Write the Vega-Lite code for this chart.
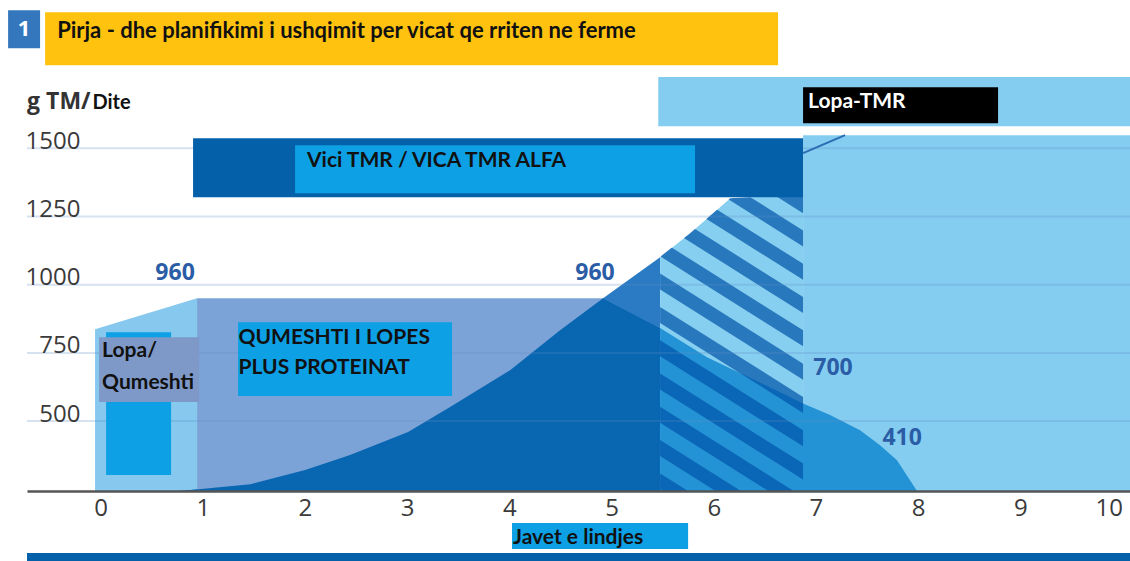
{
  "$schema": "https://vega.github.io/schema/vega-lite/v6.json",
  "width": 1103,
  "height": 416,
  "autosize": {"type": "none"},
  "padding": {"left": 27, "top": 75, "right": 0, "bottom": 70},
  "background": "white",
  "config": {"view": {"stroke": null}},
  "datasets": {
    "backgrounds": [
      {"part": "Lopa-TMR area", "week": 6.874, "week2": 10.073, "value": 244, "value2": 1547.6}
    ],
    "areas": [
      {"part": "Lopa/Qumeshti zone", "week": -0.054, "top": 837, "bottom": 244},
      {"part": "Lopa/Qumeshti zone", "week": 0.944, "top": 950.5, "bottom": 244},
      {"part": "Starter", "week": 0.778, "top": 244, "bottom": 244},
      {"part": "Starter", "week": 1.468, "top": 269, "bottom": 244},
      {"part": "Starter", "week": 2.001, "top": 320.5, "bottom": 244},
      {"part": "Starter", "week": 2.441, "top": 375.5, "bottom": 244},
      {"part": "Starter", "week": 3.009, "top": 459.7, "bottom": 244},
      {"part": "Starter", "week": 3.42, "top": 551.3, "bottom": 244},
      {"part": "Starter", "week": 4.007, "top": 686.8, "bottom": 244},
      {"part": "Starter", "week": 4.496, "top": 833.3, "bottom": 244},
      {"part": "Starter", "week": 4.917, "top": 950.5, "bottom": 244},
      {"part": "Starter", "week": 5.475, "top": 1100.7, "bottom": 244},
      {"part": "Starter transition", "week": 5.475, "top": 1100.7, "bottom": 244},
      {"part": "Starter transition", "week": 5.768, "top": 1188.6, "bottom": 244},
      {"part": "Starter transition", "week": 6.16, "top": 1316.8, "bottom": 244},
      {"part": "Starter transition", "week": 6.874, "top": 1330, "bottom": 244},
      {"part": "Milk plus protein", "week": 0.944, "top": 950.5, "bottom": 244},
      {"part": "Milk plus protein", "week": 4.917, "top": 950.5, "bottom": 244},
      {"part": "Milk plus protein", "week": 5.475, "top": 840.7, "bottom": 244},
      {"part": "Milk and starter", "week": 0.778, "top": 244, "bottom": 244},
      {"part": "Milk and starter", "week": 1.468, "top": 269, "bottom": 244},
      {"part": "Milk and starter", "week": 2.001, "top": 320.5, "bottom": 244},
      {"part": "Milk and starter", "week": 2.441, "top": 375.5, "bottom": 244},
      {"part": "Milk and starter", "week": 3.009, "top": 459.7, "bottom": 244},
      {"part": "Milk and starter", "week": 3.42, "top": 551.3, "bottom": 244},
      {"part": "Milk and starter", "week": 4.007, "top": 686.8, "bottom": 244},
      {"part": "Milk and starter", "week": 4.496, "top": 833.3, "bottom": 244},
      {"part": "Milk and starter", "week": 4.917, "top": 950.5, "bottom": 244},
      {"part": "Milk and starter", "week": 5.475, "top": 840.7, "bottom": 244},
      {"part": "Milk weaning", "week": 5.475, "top": 840.7, "bottom": 244},
      {"part": "Milk weaning", "week": 5.934, "top": 734.4, "bottom": 244},
      {"part": "Milk weaning", "week": 6.874, "top": 565, "bottom": 244},
      {"part": "Milk weaning", "week": 7.138, "top": 522, "bottom": 244},
      {"part": "Milk weaning", "week": 7.432, "top": 467, "bottom": 244},
      {"part": "Milk weaning", "week": 7.627, "top": 412, "bottom": 244},
      {"part": "Milk weaning", "week": 7.793, "top": 357, "bottom": 244},
      {"part": "Milk weaning", "week": 7.989, "top": 244, "bottom": 244},
      {"part": "Above starter", "week": 5.47, "top": 1600, "bottom": 1100.7},
      {"part": "Above starter", "week": 5.768, "top": 1600, "bottom": 1188.6},
      {"part": "Above starter", "week": 6.16, "top": 1600, "bottom": 1316.8},
      {"part": "Above starter", "week": 6.874, "top": 1600, "bottom": 1330}
    ],
    "hatch": [
      {"stripe": 0, "week": 5.475, "top": 1650.5, "bottom": 1591.9},
      {"stripe": 0, "week": 6.874, "top": 1320.5, "bottom": 1261.9},
      {"stripe": 1, "week": 5.475, "top": 1528.5, "bottom": 1469.9},
      {"stripe": 1, "week": 6.874, "top": 1198.5, "bottom": 1139.9},
      {"stripe": 2, "week": 5.475, "top": 1406.5, "bottom": 1347.9},
      {"stripe": 2, "week": 6.874, "top": 1076.5, "bottom": 1017.9},
      {"stripe": 3, "week": 5.475, "top": 1284.5, "bottom": 1225.9},
      {"stripe": 3, "week": 6.874, "top": 954.5, "bottom": 895.9},
      {"stripe": 4, "week": 5.475, "top": 1162.5, "bottom": 1103.9},
      {"stripe": 4, "week": 6.874, "top": 832.5, "bottom": 773.9},
      {"stripe": 5, "week": 5.475, "top": 1040.5, "bottom": 981.9},
      {"stripe": 5, "week": 6.874, "top": 710.5, "bottom": 651.9},
      {"stripe": 6, "week": 5.475, "top": 918.5, "bottom": 859.9},
      {"stripe": 6, "week": 6.874, "top": 588.5, "bottom": 529.9},
      {"stripe": 7, "week": 5.475, "top": 796.5, "bottom": 737.9},
      {"stripe": 7, "week": 6.874, "top": 466.5, "bottom": 407.9},
      {"stripe": 8, "week": 5.475, "top": 674.5, "bottom": 615.9},
      {"stripe": 8, "week": 6.874, "top": 344.5, "bottom": 285.9},
      {"stripe": 9, "week": 5.475, "top": 552.5, "bottom": 493.9},
      {"stripe": 9, "week": 6.874, "top": 222.5, "bottom": 163.9},
      {"stripe": 10, "week": 5.475, "top": 430.5, "bottom": 371.9},
      {"stripe": 10, "week": 6.874, "top": 100.5, "bottom": 41.9},
      {"stripe": 11, "week": 5.475, "top": 308.5, "bottom": 249.9},
      {"stripe": 11, "week": 6.874, "top": -21.5, "bottom": -80.1},
      {"stripe": 12, "week": 5.475, "top": 186.5, "bottom": 127.9},
      {"stripe": 12, "week": 6.874, "top": -143.5, "bottom": -202.1}
    ],
    "grid": [{"value": 500}, {"value": 750}, {"value": 1000}, {"value": 1250}, {"value": 1500}],
    "boxes": [
      {"part": "Lopa/Qumeshti inner", "week": 0.054, "week2": 0.69, "value": 302.2, "value2": 826},
      {"part": "Lopa/Qumeshti label", "week": -0.015, "week2": 0.964, "value": 569.6, "value2": 807.7},
      {"part": "Qumeshti label", "week": 1.345, "week2": 3.439, "value": 591.6, "value2": 862.6},
      {"part": "Lopa-TMR band", "week": 5.457, "week2": 10.073, "value": 1580.6, "value2": 1760.6},
      {"part": "Vici TMR outer", "week": 0.905, "week2": 6.874, "value": 1320.5, "value2": 1536.6},
      {"part": "Vici TMR label", "week": 1.903, "week2": 5.817, "value": 1335.2, "value2": 1511},
      {"part": "Lopa-TMR label", "week": 6.874, "week2": 8.782, "value": 1591.6, "value2": 1723.4},
      {"part": "Javet label", "week": 4.026, "week2": 5.749, "value": 31.1, "value2": 126.4},
      {"part": "Title badge", "week": -0.905, "week2": -0.592, "value": 1866.3, "value2": 2005.5},
      {"part": "Title", "week": -0.543, "week2": 6.629, "value": 1804.1, "value2": 1998.2},
      {"part": "Footer", "week": -0.72, "week2": 10.073, "value": -27, "value2": 16.5}
    ],
    "connector": [{"week": 6.874, "value": 1482, "week2": 7.285, "value2": 1548}],
    "captions": [
      {"text": "Lopa/", "week": 0.015, "value": 756.4},
      {"text": "Qumeshti", "week": 0.015, "value": 639.2},
      {"text": "QUMESHTI I LOPES", "week": 1.35, "value": 804},
      {"text": "PLUS PROTEINAT", "week": 1.35, "value": 694.1},
      {"text": "Vici TMR / VICA TMR ALFA", "week": 2.02, "value": 1452.4},
      {"text": "Javet e lindjes", "week": 4.036, "value": 71.4}
    ],
    "amounts": [
      {"label": "960", "week": 0.729, "value": 1042.1},
      {"label": "960", "week": 4.838, "value": 1042.1},
      {"label": "700", "week": 7.167, "value": 694.1},
      {"label": "410", "week": 7.843, "value": 437.7}
    ],
    "title": [{"text": "Pirja - dhe planifikimi i ushqimit per vicat qe rriten ne ferme", "week": -0.425, "value": 1928.6}],
    "badge": [{"text": "1", "week": -0.749, "value": 1935.9}],
    "tmr": [{"text": "Lopa-TMR", "week": 6.923, "value": 1668.5}],
    "unit": [{"text": "g TM/", "week": -0.719, "value": 1642.9}],
    "unit2": [{"text": "Dite", "week": -0.08, "value": 1642.9}]
  },
  "layer": [
    {
      "data": {"name": "backgrounds"},
      "mark": {"type": "rect"},
      "encoding": {
        "x": {
          "field": "week", "type": "quantitative",
          "scale": {"domain": [-0.72, 10.073], "nice": false, "zero": false},
          "axis": {
            "values": [0, 1, 2, 3, 4, 5, 6, 7, 8, 9, 10], "format": "d", "title": null,
            "grid": false, "ticks": false, "tickSize": 0, "labelPadding": 17,
            "labelBaseline": "middle", "labelFont": "Open Sans", "labelFontSize": 24,
            "labelColor": "#3a3a3a", "domainColor": "#555555", "domainWidth": 2.5,
            "labelFlush": 10, "labelOverlap": false, "labelBound": false, "zindex": 2
          }
        },
        "x2": {"field": "week2"},
        "y": {
          "field": "value", "type": "quantitative",
          "scale": {"domain": [244, 1768], "nice": false, "zero": false},
          "axis": {
            "values": [500, 750, 1000, 1250, 1500], "format": "d", "title": null, "grid": false,
            "ticks": false, "tickSize": 0, "domain": false, "labelAlign": "right",
            "labelBaseline": "alphabetic", "labelPadding": -53, "labelFont": "Open Sans",
            "labelFontSize": 24, "labelColor": "#3a3a3a", "labelBound": false,
            "labelFlush": false, "labelOverlap": false, "zindex": 2
          }
        },
        "y2": {"field": "value2"},
        "color": {"value": "#85CDF0"}
      }
    },
    {
      "data": {"name": "areas"},
      "transform": [{"filter": "datum.part === 'Lopa/Qumeshti zone'"}],
      "mark": {"type": "area", "color": "#86C8EE"},
      "encoding": {
        "x": {"field": "week", "type": "quantitative"},
        "y": {"field": "top", "type": "quantitative", "stack": null},
        "y2": {"field": "bottom"}
      }
    },
    {
      "data": {"name": "areas"},
      "transform": [{"filter": "datum.part === 'Starter'"}],
      "mark": {"type": "area", "color": "#2B7BC4"},
      "encoding": {
        "x": {"field": "week", "type": "quantitative"},
        "y": {"field": "top", "type": "quantitative", "stack": null},
        "y2": {"field": "bottom"}
      }
    },
    {
      "data": {"name": "areas"},
      "transform": [{"filter": "datum.part === 'Starter transition'"}],
      "mark": {"type": "area", "color": "#87CFF0"},
      "encoding": {
        "x": {"field": "week", "type": "quantitative"},
        "y": {"field": "top", "type": "quantitative", "stack": null},
        "y2": {"field": "bottom"}
      }
    },
    {
      "data": {"name": "areas"},
      "transform": [{"filter": "datum.part === 'Milk plus protein'"}],
      "mark": {"type": "area", "color": "#7CA3D7"},
      "encoding": {
        "x": {"field": "week", "type": "quantitative"},
        "y": {"field": "top", "type": "quantitative", "stack": null},
        "y2": {"field": "bottom"}
      }
    },
    {
      "data": {"name": "areas"},
      "transform": [{"filter": "datum.part === 'Milk and starter'"}],
      "mark": {"type": "area", "color": "#0966B1"},
      "encoding": {
        "x": {"field": "week", "type": "quantitative"},
        "y": {"field": "top", "type": "quantitative", "stack": null},
        "y2": {"field": "bottom"}
      }
    },
    {
      "data": {"name": "areas"},
      "transform": [{"filter": "datum.part === 'Milk weaning'"}],
      "mark": {"type": "area", "color": "#2393D6"},
      "encoding": {
        "x": {"field": "week", "type": "quantitative"},
        "y": {"field": "top", "type": "quantitative", "stack": null},
        "y2": {"field": "bottom"}
      }
    },
    {
      "data": {"name": "hatch"},
      "mark": {"type": "area", "color": "#0052A8", "opacity": 0.7, "clip": true},
      "encoding": {
        "x": {"field": "week", "type": "quantitative"},
        "y": {"field": "top", "type": "quantitative", "stack": null},
        "y2": {"field": "bottom"},
        "detail": {"field": "stripe", "type": "nominal"}
      }
    },
    {
      "data": {"name": "areas"},
      "transform": [{"filter": "datum.part === 'Above starter'"}],
      "mark": {"type": "area", "color": "#ffffff"},
      "encoding": {
        "x": {"field": "week", "type": "quantitative"},
        "y": {"field": "top", "type": "quantitative", "stack": null},
        "y2": {"field": "bottom"}
      }
    },
    {
      "data": {"name": "grid"},
      "mark": {"type": "rule", "color": "#5B8CC4", "opacity": 0.25, "strokeWidth": 2},
      "encoding": {
        "y": {"field": "value", "type": "quantitative"}
      }
    },
    {
      "data": {"name": "boxes"},
      "mark": {"type": "rect"},
      "encoding": {
        "x": {"field": "week", "type": "quantitative"},
        "x2": {"field": "week2"},
        "y": {"field": "value", "type": "quantitative"},
        "y2": {"field": "value2"},
        "color": {
          "field": "part", "type": "nominal", "legend": null,
          "scale": {
            "domain": ["Lopa/Qumeshti inner", "Lopa/Qumeshti label", "Qumeshti label", "Lopa-TMR band", "Vici TMR outer", "Vici TMR label", "Lopa-TMR label", "Javet label", "Title badge", "Title", "Footer"],
            "range": ["#0EA0E4", "#7E99C8", "#0EA0E4", "#85CDF0", "#0560AA", "#0EA0E4", "#000000", "#0EA0E4", "#3577BC", "#FFC20E", "#0560AA"]
          }
        }
      }
    },
    {
      "data": {"name": "connector"},
      "mark": {"type": "rule", "color": "#2A6DB5", "strokeWidth": 2},
      "encoding": {
        "x": {"field": "week", "type": "quantitative"},
        "x2": {"field": "week2"},
        "y": {"field": "value", "type": "quantitative"},
        "y2": {"field": "value2"}
      }
    },
    {
      "data": {"name": "captions"},
      "mark": {"type": "text", "align": "left", "baseline": "middle", "font": "Lato", "fontWeight": "bold", "fontSize": 21, "color": "#111111"},
      "encoding": {
        "x": {"field": "week", "type": "quantitative"},
        "y": {"field": "value", "type": "quantitative"},
        "text": {"field": "text"}
      }
    },
    {
      "data": {"name": "amounts"},
      "mark": {"type": "text", "align": "center", "baseline": "middle", "font": "Open Sans", "fontWeight": "bold", "fontSize": 23, "color": "#2A5DA6"},
      "encoding": {
        "x": {"field": "week", "type": "quantitative"},
        "y": {"field": "value", "type": "quantitative"},
        "text": {"field": "label"}
      }
    },
    {
      "data": {"name": "title"},
      "mark": {"type": "text", "align": "left", "baseline": "middle", "font": "Lato", "fontWeight": "bold", "fontSize": 22, "color": "#111111"},
      "encoding": {
        "x": {"field": "week", "type": "quantitative"},
        "y": {"field": "value", "type": "quantitative"},
        "text": {"field": "text"}
      }
    },
    {
      "data": {"name": "badge"},
      "mark": {"type": "text", "align": "center", "baseline": "middle", "font": "Open Sans", "fontWeight": "bold", "fontSize": 22, "color": "#ffffff"},
      "encoding": {
        "x": {"field": "week", "type": "quantitative"},
        "y": {"field": "value", "type": "quantitative"},
        "text": {"field": "text"}
      }
    },
    {
      "data": {"name": "tmr"},
      "mark": {"type": "text", "align": "left", "baseline": "middle", "font": "Lato", "fontWeight": "bold", "fontSize": 21, "color": "#ffffff"},
      "encoding": {
        "x": {"field": "week", "type": "quantitative"},
        "y": {"field": "value", "type": "quantitative"},
        "text": {"field": "text"}
      }
    },
    {
      "data": {"name": "unit"},
      "mark": {"type": "text", "align": "left", "baseline": "alphabetic", "font": "Open Sans", "fontWeight": "bold", "fontSize": 23, "color": "#333333"},
      "encoding": {
        "x": {"field": "week", "type": "quantitative"},
        "y": {"field": "value", "type": "quantitative"},
        "text": {"field": "text"}
      }
    },
    {
      "data": {"name": "unit2"},
      "mark": {"type": "text", "align": "left", "baseline": "alphabetic", "font": "Lato", "fontWeight": "bold", "fontSize": 20, "color": "#111111"},
      "encoding": {
        "x": {"field": "week", "type": "quantitative"},
        "y": {"field": "value", "type": "quantitative"},
        "text": {"field": "text"}
      }
    }
  ]
}
